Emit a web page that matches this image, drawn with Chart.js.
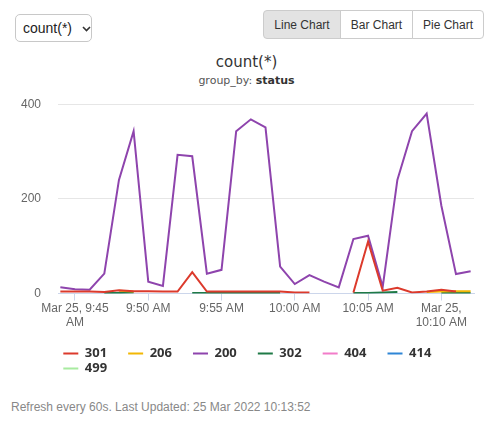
<!DOCTYPE html>
<html>
<head>
<meta charset="utf-8">
<title>count(*) by status</title>
<script src="https://cdn.jsdelivr.net/npm/chart.js"></script>
<style>
  body { margin: 0; background: #fff; font-family: 'Liberation Sans', Arial, sans-serif; color: #333; }
  .wrap { position: relative; width: 493px; height: 428px; overflow: hidden; }

  #metric {
    position: absolute; left: 15px; top: 14px; width: 77px; height: 28px;
    box-sizing: border-box; border: 1px solid #c8c8c8; border-radius: 5px;
    background: #fff url("data:image/svg+xml;utf8,<svg xmlns='http://www.w3.org/2000/svg' width='9' height='6'><path d='M1 1l3.5 3.5L8 1' stroke='%23333' stroke-width='1.6' fill='none'/></svg>") no-repeat 66px 11px;
    -webkit-appearance: none; appearance: none;
    font: 14px 'Liberation Sans', Arial, sans-serif; color: #222; padding: 0 0 0 7px;
  }

  .btn-group { position: absolute; left: 263px; top: 10px; display: flex; }
  .btn-group button {
    height: 29px; box-sizing: border-box; border: 1px solid #ccc; margin-left: -1px;
    background: #fff; color: #333; font: 12px 'Liberation Sans', Arial, sans-serif; padding: 0;
  }
  .btn-group button:first-child { border-radius: 4px 0 0 4px; margin-left: 0; }
  .btn-group button:last-child { border-radius: 0 4px 4px 0; }
  .btn-group button.active { background: #e3e3e3; }

  .title { position: absolute; left: 0; top: 52px; width: 493px; text-align: center;
    font: 15px 'DejaVu Sans', sans-serif; line-height: 20px; color: #333; }
  .subtitle { position: absolute; left: 0; top: 74px; width: 493px; text-align: center;
    font: 11px 'DejaVu Sans', sans-serif; line-height: 14px; color: #555; }
  .subtitle b { color: #333; }

  .chart-box { position: absolute; left: 0; top: 80px; width: 493px; height: 305px; }

  .footer { position: absolute; left: 11px; top: 400px; font-size: 12px; line-height: 14px; color: #888; }
</style>
</head>
<body>
<div class="wrap">
  <select id="metric"><option>count(*)</option></select>

  <div class="btn-group">
    <button class="active" style="width:78px">Line Chart</button>
    <button style="width:73px">Bar Chart</button>
    <button style="width:72px">Pie Chart</button>
  </div>

  <div class="title">count(*)</div>
  <div class="subtitle">group_by: <b>status</b></div>

  <div class="chart-box"><canvas id="statusChart" width="493" height="305"></canvas></div>

  <div class="footer">Refresh every 60s. Last Updated: 25 Mar 2022 10:13:52</div>
</div>

<script>
// Minutes since midnight, 9:44 AM to 10:12 AM
const minutes = [584, 585, 586, 587, 588, 589, 590, 591, 592, 593,
                 594, 595, 596, 597, 598, 599, 600, 601, 602, 603,
                 604, 605, 606, 607, 608, 609, 610, 611, 612];

const tickMinutes = [585, 590, 595, 600, 605, 610];
const tickLabels = [['Mar 25, 9:45', 'AM'], '9:50 AM', '9:55 AM', '10:00 AM', '10:05 AM', ['Mar 25,', '10:10 AM']];

const statusCodes = ['301', '206', '200', '302', '404', '414', '499'];

const status301 = [4, 4, 4, 3, 7, 5, 5, 4, 4, 45, 4, 4, 4, 4, 4, 4, 2, 2, null, null, 2, 110, 6, 12, 2, 4, 8, 4, null];
const status206 = [null, null, null, null, 6, 4, null, null, null, null, null, null, null, null, null, null, null, null, null, null, null, null, null, null, null, 3, 4, 5, 5];
const status200 = [13, 9, 8, 42, 240, 343, 25, 16, 293, 290, 42, 50, 343, 368, 351, 57, 20, 39, 25, 13, 115, 122, 14, 240, 343, 380, 186, 41, 47];
const status302 = [null, null, null, 1, 1, 2, null, null, null, 1, 1, 1, 1, 1, 1, 1, null, null, null, null, 1, 1, 2, 3, null, null, 1, 1, 1];
// no visible points for these in this window
const status404 = [];
const status414 = [];
const status499 = [];

const series = [status301, status206, status200, status302, status404, status414, status499];
const lineColors = ['#dc3a2c', '#f2b705', '#8e44ad', '#1f7a47', '#f27cc9', '#2f86d6', '#a8eba0'];

Chart.defaults.font.family = "'Liberation Sans', Arial, sans-serif";

// legend rows start under the plot, not at the canvas edge
const legendShift = {
  id: 'legendShift',
  beforeDraw(chart) {
    if (chart.legend) chart.legend.left = 61.3;
  }
};

const ctx = document.getElementById('statusChart');

const statusChart = new Chart(ctx, {
  type: 'line',
  data: {
    datasets: statusCodes.map((code, i) => ({
      label: code,
      data: series[i].map((v, j) => ({ x: minutes[j], y: v })),
      borderColor: lineColors[i],
      backgroundColor: lineColors[i],
      borderWidth: 2,
      pointRadius: 0,
      tension: 0,
      fill: false
    }))
  },
  options: {
    responsive: false,
    animation: false,
    // the y tick padding (17) also sets the top gap of 24px above the plot
    layout: { padding: { left: 21, right: 19, top: 0, bottom: 0 } },
    scales: {
      x: {
        type: 'linear',
        min: 583.84,
        max: 612.23,
        afterBuildTicks: s => { s.ticks = tickMinutes.map(v => ({ value: v })); },
        afterFit: s => { s.height = 51.5; },
        ticks: {
          autoSkip: false, maxRotation: 0, padding: 2, color: '#666',
          font: { size: 12, lineHeight: 1.1 },
          callback: (v, i) => tickLabels[i]
        },
        grid: { drawOnChartArea: false, color: '#ccd6eb', tickLength: 7 },
        border: { color: '#ccd6eb' }
      },
      y: {
        min: 0,
        max: 400,
        afterFit: s => { s.width = 37; },
        ticks: { stepSize: 200, padding: 17, color: '#666', font: { size: 12 } },
        grid: { drawTicks: false, color: c => c.tick.value === 0 ? '#ccd6eb' : '#e6e6e6' },
        border: { display: false }
      }
    },
    plugins: {
      legend: {
        position: 'bottom',
        align: 'start',
        labels: {
          usePointStyle: true,
          pointStyle: 'line',
          pointStyleWidth: 15,
          padding: 2,
          color: '#333',
          font: { family: "'Open Sans', sans-serif", size: 13, weight: 'bold' },
          // trailing spaces widen each item to match the legend spacing
          generateLabels: chart => Chart.defaults.plugins.legend.labels.generateLabels(chart)
            .map(item => ({ ...item, text: item.text + '     \u2009' }))
        }
      },
      tooltip: { enabled: false }
    }
  },
  plugins: [legendShift]
});
</script>
</body>
</html>
